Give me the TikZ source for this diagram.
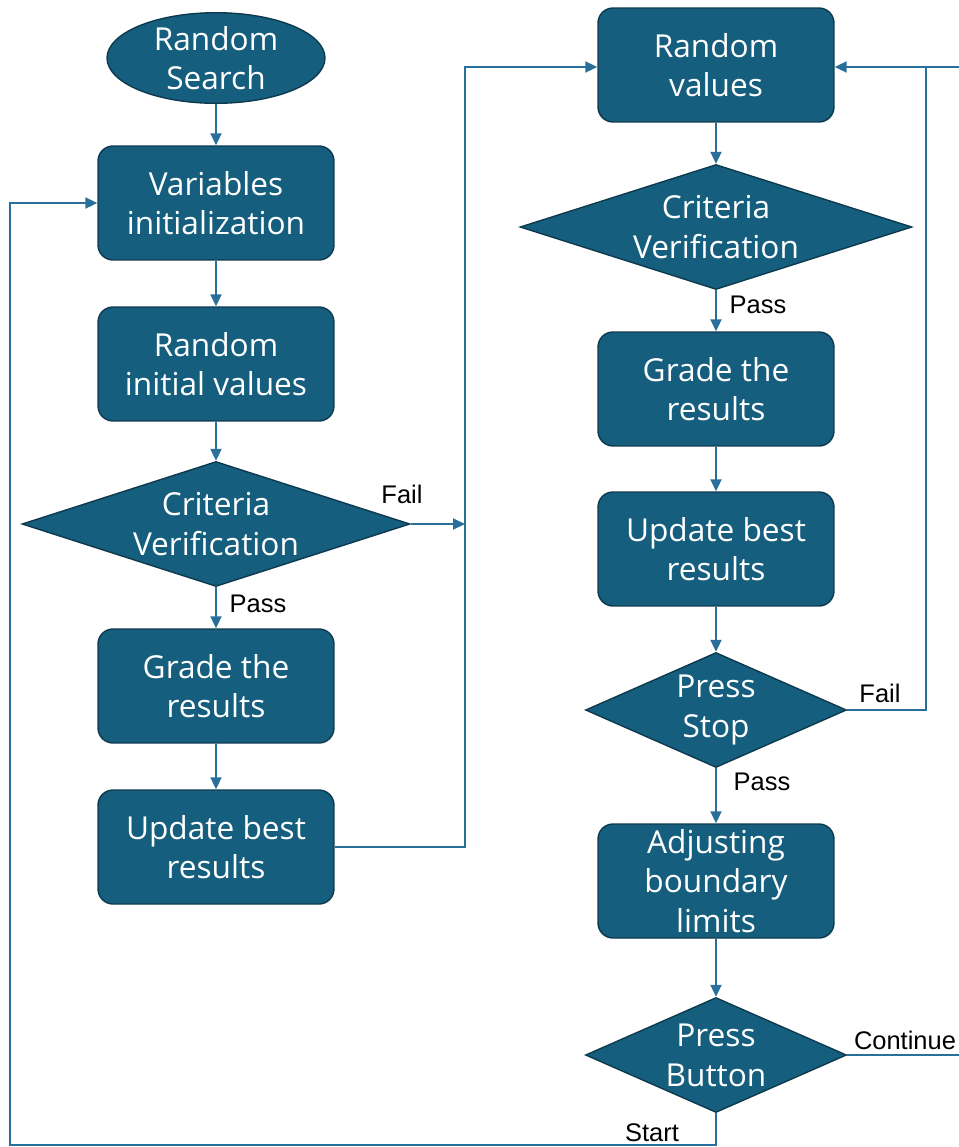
\documentclass[tikz,border=0pt]{standalone}
\usepackage{fontspec}
\setmainfont{Open Sans}
\newfontfamily\labelfont{Liberation Sans}
\usetikzlibrary{shapes.geometric,arrows.meta}
\definecolor{boxfill}{RGB}{21,94,126}
\definecolor{boxline}{RGB}{14,58,80}
\definecolor{wire}{RGB}{40,112,155}
\begin{document}
\begin{tikzpicture}[x=0.02cm,y=-0.02cm]
\tikzset{
  block/.style={draw=boxline,fill=boxfill,text=white,rounded corners=0.3cm,
    minimum width=4.72cm,minimum height=2.28cm,align=center,font=\fontsize{18}{22.6}\selectfont,line width=0.8pt},
  decide/.style={draw=boxline,fill=boxfill,text=white,diamond,aspect=3.1,inner sep=0pt,
    align=center,font=\fontsize{18}{22.6}\selectfont,line width=0.8pt},
  begin/.style={draw=boxline,fill=boxfill,text=white,ellipse,minimum width=4.36cm,
    minimum height=1.8cm,inner sep=0pt,align=center,font=\fontsize{18}{22.6}\selectfont,line width=0.8pt},
  wirearrow/.style={draw=wire,line width=1.1pt,-{Triangle[length=2.4mm,width=2.2mm]}},
  wireline/.style={draw=wire,line width=1.1pt},
  tag/.style={font=\labelfont\fontsize{14.5}{17}\selectfont,text=black,inner sep=1pt}
}
\useasboundingbox (0,0) rectangle (958,1147);
% left column
\node[begin] (rs) at (216,58) {Random\\Search};
\node[block] (vinit) at (216,203) {Variables\\initialization};
\node[block] (rinit) at (216,364) {Random\\initial values};
\node[decide,minimum width=7.76cm,minimum height=2.5cm] (crit1) at (216,524) {Criteria\\Verification};
\node[block] (grade1) at (216,686) {Grade the\\results};
\node[block] (upd1) at (216,847) {Update best\\results};
% right column
\node[block] (rval) at (716,65) {Random\\values};
\node[decide,minimum width=7.84cm,minimum height=2.5cm] (crit2) at (716,227) {Criteria\\Verification};
\node[block] (grade2) at (716,389) {Grade the\\results};
\node[block] (upd2) at (716,549) {Update best\\results};
\node[decide,aspect=2.27,minimum width=5.22cm,minimum height=2.3cm] (stop) at (716,710) {Press\\Stop};
\node[block,inner ysep=0pt] (adjust) at (716,881) {Adjusting\\boundary\\limits};
\node[decide,aspect=2.27,minimum width=5.22cm,minimum height=2.3cm] (button) at (716,1055) {Press\\Button};
\coordinate (jl) at (465,524);
\coordinate (jr) at (926,67);
% straight links
\draw[wirearrow] (rs) -- (vinit);
\draw[wirearrow] (vinit) -- (rinit);
\draw[wirearrow] (rinit) -- (crit1);
\draw[wirearrow] (crit1) -- (grade1);
\draw[wirearrow] (grade1) -- (upd1);
\draw[wirearrow] (rval) -- (crit2);
\draw[wirearrow] (crit2) -- (grade2);
\draw[wirearrow] (grade2) -- (upd2);
\draw[wirearrow] (upd2) -- (stop);
\draw[wirearrow] (stop) -- (adjust);
\draw[wirearrow] (adjust) -- (button);
% loops
\draw[wirearrow] (crit1.east) -- (jl);
\draw[wirearrow] (upd1.east) -| (465,67) -- (rval.west |- 0,67);
\draw[wirearrow] (stop.east) -| (jr) -- (rval.east |- jr);
\draw[wireline] (button.east) -| (962,67) -- (jr);
\draw[wirearrow] (button.south) |- (10,1145) |- (vinit.west);
% labels
\node[tag] at (402,494) {Fail};
\node[tag] at (258,604) {Pass};
\node[tag] at (758,305) {Pass};
\node[tag] at (880,693) {Fail};
\node[tag] at (762,782) {Pass};
\node[tag] at (905,1040) {Continue};
\node[tag] at (652,1133) {Start};
\end{tikzpicture}
\end{document}
